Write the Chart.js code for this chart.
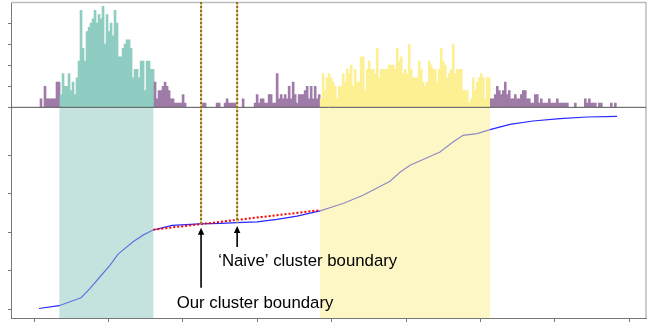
<!DOCTYPE html>
<html><head><meta charset="utf-8">
<script src="https://cdn.jsdelivr.net/npm/chart.js@4/dist/chart.umd.min.js"></script>
<style>html,body{margin:0;padding:0;background:#fff;}#wrap{width:650px;height:322px;position:relative;}</style>
</head><body><div id="wrap"><canvas id="c" width="650" height="322"></canvas></div>
<script>
// ---- data ----
const xTicks = [0,1,2,3,4,5,6,7,8];
const yTopTicks = [0,5,10,15,20];
const yBotTicks = [0,1,2,3,4];
const binStart = 0.08, binWidth = 0.0269;
const counts = [
 2,0,5,2,2,2,2,2,6,6,
 3,8,5,5,8,4,6,3,7,11,23,14,11,18,19,20,21,23,20,22,21,24,15,22,18,20,17,23,20,12,12,14,15,16,16,14,7,9,9,7,11,11,4,11,11,9,9,
 6,2,4,4,5,6,5,4,2,2,1,1,1,1,3,1,
 0,0,0,0,0,0,0,0,
 1,1,0,0,0,0,0,1,1,0,0,1,2,1,1,1,1,0,0,0,2,0,0,0,0,0,
 1,3,1,2,2,1,1,3,3,1,1,8,2,3,2,3,2,5,2,6,3,1,3,3,3,4,5,2,5,2,5,2,3,
 2,8,4,7,8,7,6,5,2,5,5,8,6,9,8,10,5,9,6,6,12,12,4,9,11,9,9,8,14,7,9,9,9,9,10,10,10,9,14,11,
 12,8,9,8,15,9,7,7,7,11,9,6,5,6,11,10,9,9,6,9,14,11,10,7,8,9,15,8,9,9,9,4,4,4,1,2,7,4,6,7,8,7,2,7,7,
 2,2,3,5,4,3,4,6,3,4,2,2,3,2,2,3,4,4,2,2,1,1,3,3,1,2,1,1,1,2,1,1,1,2,1,1,1,1,1,0,0,0,1,0,0,0,0,2,1,2,1,1,1,0,1,1,0,0,0,0,1,0,1
];
const clusterTeal = [0.340, 1.6035];
const clusterYellow = [3.844, 6.129];
const cumX = [0.067,0.336,0.632,0.753,0.887,1.022,1.129,1.331,1.465,1.599,1.855,2.231,2.500,2.728,2.997,3.266,3.535,3.844,4.153,4.422,4.785,4.919,5.054,5.457,5.632,5.766,5.954,6.129,6.398,6.707,7.070,7.433,7.836];
const cumY = [0.013,0.086,0.294,0.538,0.839,1.143,1.429,1.748,1.922,2.057,2.174,2.213,2.226,2.247,2.268,2.330,2.416,2.553,2.745,2.961,3.325,3.558,3.740,4.086,4.345,4.519,4.564,4.668,4.805,4.891,4.953,4.995,5.013];
const fitX = [1.604, 3.844];
const fitY = [2.065, 2.571];
const boundaryX = [2.245, 2.73];
const boundaryY = [2.22, 2.25];
const labels = ['Our cluster boundary', '\u2018Naive\u2019 cluster boundary'];

// ---- build ----
const inR = (v, r) => v >= r[0] && v <= r[1];
const barData = counts.map((c, k) => ({x: binStart + (k + 0.5) * binWidth, y: c}));
const barColors = barData.map(p => inR(p.x, clusterTeal) ? '#8fcdc2' : (inR(p.x, clusterYellow) ? '#fdf093' : '#9f7ba8'));

function arrow(ctx, x, tipY, tailY) {
  ctx.strokeStyle = '#000'; ctx.fillStyle = '#000'; ctx.lineWidth = 1.6;
  ctx.beginPath(); ctx.moveTo(x, tailY); ctx.lineTo(x, tipY + 5); ctx.stroke();
  ctx.beginPath(); ctx.moveTo(x, tipY); ctx.lineTo(x - 3.2, tipY + 7); ctx.lineTo(x + 3.2, tipY + 7); ctx.closePath(); ctx.fill();
}

const overlay = {
  id: 'overlay',
  afterDatasetsDraw(chart) {
    const {ctx, chartArea: a, scales} = chart;
    const x = scales.x, yTop = scales.yTop, yBot = scales.yBot;
    ctx.save();
    [[clusterTeal, 'rgba(140,200,190,0.5)'], [clusterYellow, 'rgba(251,240,140,0.5)']].forEach(([r, c]) => {
      const x0 = x.getPixelForValue(r[0]), x1 = x.getPixelForValue(r[1]);
      ctx.fillStyle = c;
      ctx.fillRect(x0, yBot.top, x1 - x0, yBot.bottom - yBot.top);
    });
    ctx.strokeStyle = '#bdbdbd'; ctx.lineWidth = 1.5;
    ctx.beginPath(); ctx.moveTo(a.left, a.top + 0.5); ctx.lineTo(a.right, a.top + 0.5); ctx.stroke();
    ctx.strokeStyle = '#aaaaaa'; ctx.lineWidth = 1.2;
    ctx.beginPath(); ctx.moveTo(a.right, a.top); ctx.lineTo(a.right, a.bottom); ctx.stroke();
    const by = yTop.getPixelForValue(0);
    ctx.strokeStyle = '#555'; ctx.lineWidth = 1;
    ctx.beginPath(); ctx.moveTo(a.left, by); ctx.lineTo(a.right, by); ctx.stroke();
    boundaryX.forEach((bx, i) => {
      const px = x.getPixelForValue(bx), py = yBot.getPixelForValue(boundaryY[i]);
      ctx.setLineDash([]); ctx.strokeStyle = '#e2cd88'; ctx.lineWidth = 2;
      ctx.beginPath(); ctx.moveTo(px, a.top); ctx.lineTo(px, py); ctx.stroke();
      ctx.setLineDash([2, 2]); ctx.strokeStyle = '#8f6c1e';
      ctx.beginPath(); ctx.moveTo(px, a.top); ctx.lineTo(px, py); ctx.stroke();
    });
    ctx.setLineDash([]);
    const p0 = x.getPixelForValue(boundaryX[0]), t0 = yBot.getPixelForValue(boundaryY[0]) + 4;
    const p1 = x.getPixelForValue(boundaryX[1]), t1 = yBot.getPixelForValue(boundaryY[1]) + 3.5;
    arrow(ctx, p0, t0, t0 + 60);
    arrow(ctx, p1, t1, t1 + 21);
    ctx.fillStyle = '#000';
    ctx.font = '16.8px "Liberation Sans", Arial, sans-serif';
    ctx.textBaseline = 'alphabetic';
    ctx.textAlign = 'center';
    ctx.fillText(labels[0], p0 + 54, 307.7);
    ctx.textAlign = 'left';
    ctx.fillText(labels[1], p1 - 19, 266);
    ctx.restore();
  }
};

new Chart(document.getElementById('c').getContext('2d'), {
  type: 'bar',
  data: {
    datasets: [
      {type: 'line', data: fitX.map((v, i) => ({x: v, y: fitY[i]})), xAxisID: 'x', yAxisID: 'yBot',
       borderColor: '#ff0000', borderWidth: 2, borderDash: [2, 2], pointRadius: 0, fill: false, order: 0},
      {type: 'line', data: cumX.map((v, i) => ({x: v, y: cumY[i]})), xAxisID: 'x', yAxisID: 'yBot',
       borderColor: 'rgb(40,40,255)', borderWidth: 1.2, pointRadius: 0, tension: 0, fill: false, order: 1},
      {type: 'bar', data: barData, xAxisID: 'x', yAxisID: 'yTop', backgroundColor: barColors,
       barPercentage: 1, categoryPercentage: 1, borderWidth: 0, order: 2}
    ]
  },
  options: {
    responsive: false, animation: false, devicePixelRatio: 1,
    layout: {padding: {left: 8, right: 4, top: 2, bottom: 0}},
    plugins: {legend: {display: false}, tooltip: {enabled: false}},
    scales: {
      x: {type: 'linear', position: 'bottom', min: -0.31, max: 8.226, offset: false,
          grid: {offset: false, drawOnChartArea: false, drawTicks: true, tickLength: 4, color: '#777'},
          border: {color: '#777'}, ticks: {display: false},
          afterBuildTicks: s => { s.ticks = xTicks.map(v => ({value: v})); }},
      yBot: {type: 'linear', position: 'left', stack: 'p', stackWeight: 2, min: -0.234, max: 5.247,
          grid: {drawOnChartArea: false, drawTicks: true, tickLength: 3, color: '#777'},
          border: {color: '#777'}, ticks: {display: false},
          afterBuildTicks: s => { s.ticks = yBotTicks.map(v => ({value: v})); }},
      yTop: {type: 'linear', position: 'left', stack: 'p', stackWeight: 1, min: 0, max: 25,
          grid: {drawOnChartArea: false, drawTicks: true, tickLength: 3, color: '#777'},
          border: {color: '#777'}, ticks: {display: false},
          afterBuildTicks: s => { s.ticks = yTopTicks.map(v => ({value: v})); }}
    }
  },
  plugins: [overlay]
});
</script></body></html>
